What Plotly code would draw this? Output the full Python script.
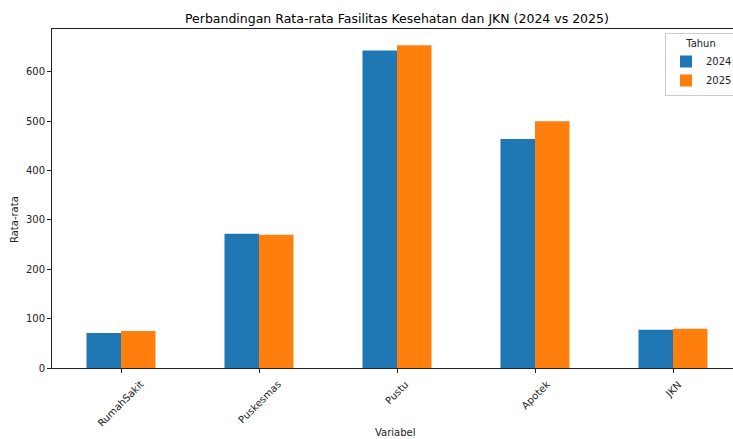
import plotly.graph_objects as go

categories = ["RumahSakit", "Puskesmas", "Pustu", "Apotek", "JKN"]
values_2024 = [71, 272, 643, 464, 77.5]
values_2025 = [75, 270, 654, 500, 79.5]
y_ticks = [0, 100, 200, 300, 400, 500, 600]

FONT = "DejaVu Sans"
W, H = 733, 439
L, T = 52, 29
B = H - 368
R = 0
PX_PER_CAT = 138.0

fig = go.Figure()
fig.add_trace(go.Bar(x=categories, y=values_2024, name="2024", marker=dict(color="#1f77b4", line=dict(width=0))))
fig.add_trace(go.Bar(x=categories, y=values_2025, name="2025", marker=dict(color="#ff7f0e", line=dict(width=0))))

plot_w = W - L - R
plot_h = H - T - B
ymax = max(values_2024 + values_2025) * 1.05
x_right = -0.5 + plot_w / PX_PER_CAT


def px(xp):
    return (xp - L) / plot_w


def py(yp):
    return (H - B - yp) / plot_h


annotations = [
    dict(text="Perbandingan Rata-rata Fasilitas Kesehatan dan JKN (2024 vs 2025)",
         xref="paper", yref="paper", x=px(396.5), y=py(18),
         xanchor="center", yanchor="middle", showarrow=False, font=dict(size=12.5, color="#000")),
    dict(text="Rata-rata", xref="paper", yref="paper", x=px(14), y=py(220),
         textangle=-90, xanchor="center", yanchor="middle", showarrow=False, font=dict(size=10, color="#222")),
    dict(text="Variabel", xref="paper", yref="paper", x=px(395), y=py(432),
         xanchor="center", yanchor="middle", showarrow=False, font=dict(size=10, color="#222")),
]
# rotated category labels, centred under each tick (matplotlib rotation=45, ha='center')
for c in categories:
    annotations.append(dict(text=c, xref="x", yref="paper", x=c, y=py(376),
                            xanchor="center", yanchor="top", textangle=-45, showarrow=False,
                            font=dict(size=10, color="#222")))

fig.update_layout(
    width=W, height=H,
    margin=dict(l=L, r=R, t=T, b=B, autoexpand=False),
    paper_bgcolor="white", plot_bgcolor="white",
    font=dict(family=FONT, size=10, color="#222"),
    barmode="group", bargap=0.5, bargroupgap=0,
    showlegend=True,
    legend=dict(
        title=dict(text="Tahun", side="top center", font=dict(size=10)),
        x=px(665), xanchor="left", y=py(33), yanchor="top",
        bgcolor="rgba(255,255,255,0.8)", bordercolor="#cccccc", borderwidth=1,
        font=dict(size=10), itemwidth=30,
    ),
    xaxis=dict(
        range=[-0.5, x_right], showline=True, linecolor="#222", linewidth=1, mirror=True,
        ticks="outside", ticklen=4, tickcolor="#222", showticklabels=False,
        showgrid=False, automargin=False,
    ),
    yaxis=dict(
        range=[0, ymax], tickvals=y_ticks, showline=True, linecolor="#222", linewidth=1, mirror=False,
        ticks="outside", ticklen=4, tickcolor="#222", tickfont=dict(size=10),
        showgrid=False, zeroline=False, automargin=False,
    ),
    annotations=annotations,
)

fig.write_html("out.html", config={"displayModeBar": False},
               post_script="document.body.style.margin='0';document.body.style.overflow='hidden';")
